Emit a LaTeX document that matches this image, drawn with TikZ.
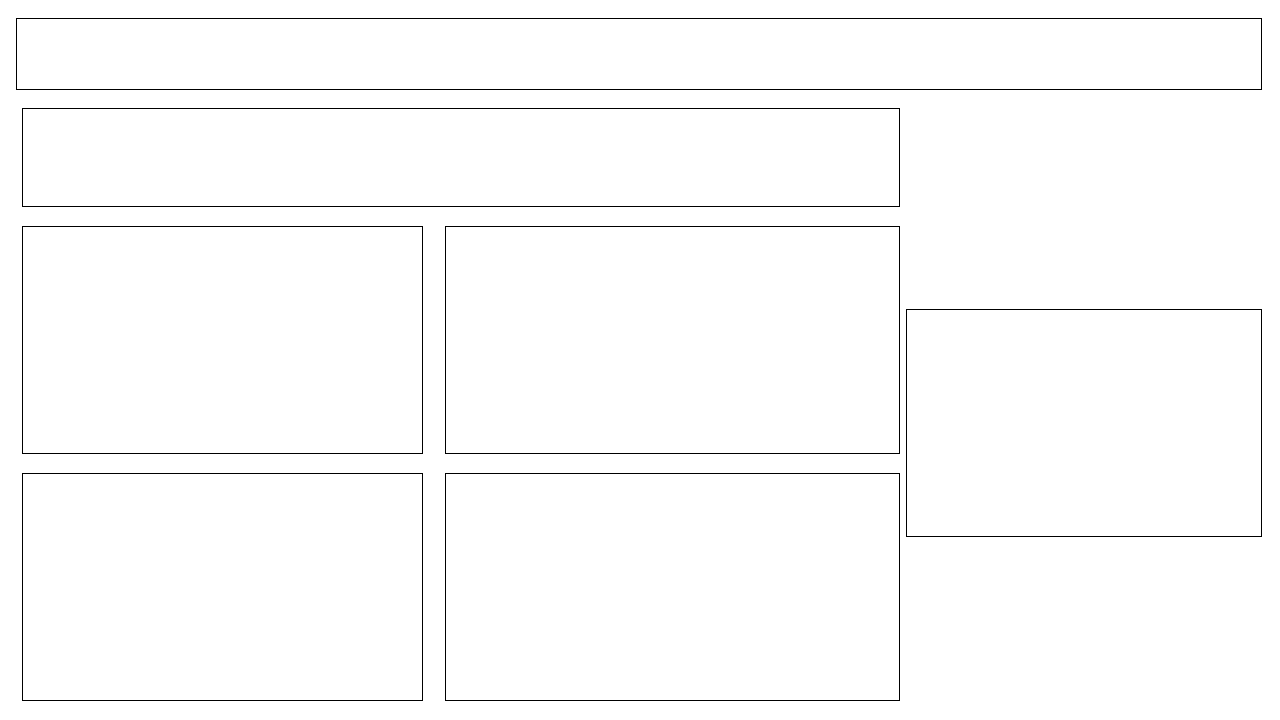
\documentclass[tikz,border=0pt]{standalone}
\begin{document}
\begin{tikzpicture}[x=0.75pt,y=-0.75pt,
  box/.style={draw=black, line width=0.75pt, inner sep=0pt, outer sep=0pt, anchor=north west, fill=white}]
\useasboundingbox[fill=white] (0,0) rectangle (1280,720);
\node[box, minimum width=933.75pt, minimum height=53.25pt] (header) at (16,18.6) {};
\node[box, minimum width=657.75pt, minimum height=73.5pt] (banner) at (22,108.6) {};
\node[box, minimum width=300pt, minimum height=169.8pt] (p1) at (22,226.6) {};
\node[box, minimum width=340.5pt, minimum height=169.8pt] (p2) at (445,226.6) {};
\node[box, minimum width=300pt, minimum height=170.25pt] (p3) at (22,473) {};
\node[box, minimum width=340.5pt, minimum height=170.25pt] (p4) at (445,473) {};
\node[box, minimum width=266.25pt, minimum height=170.25pt] (side) at (906,309) {};
\end{tikzpicture}
\end{document}
